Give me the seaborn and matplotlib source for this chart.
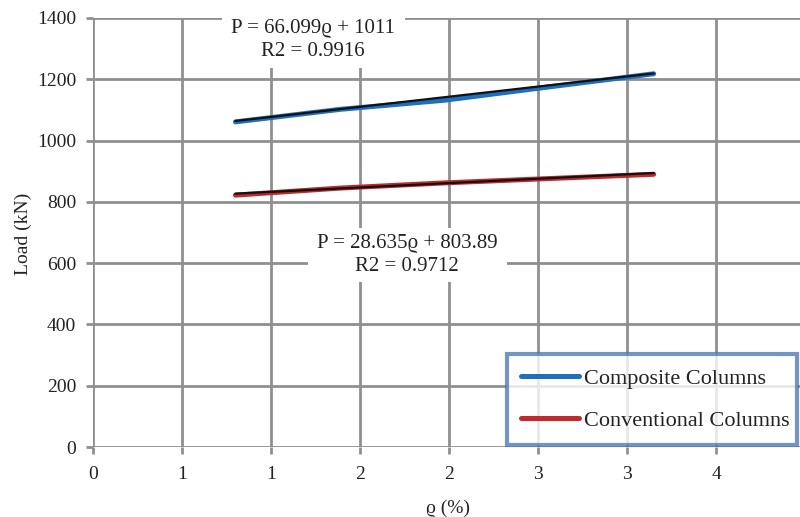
import matplotlib
matplotlib.use("Agg")
import matplotlib.pyplot as plt
from matplotlib.patches import Rectangle
import seaborn as sns
import pandas as pd
import numpy as np

# Data
rho = [0.80, 1.39, 1.98, 2.56, 3.15]
composite = [1061, 1102, 1132, 1175, 1218]
conventional = [822, 845, 862, 876, 890]
series_names = ["Composite Columns", "Conventional Columns"]
fit_composite = (66.099, 1011.0)
fit_conventional = (28.635, 803.89)
eq_composite = "P = 66.099ϱ + 1011\nR2 = 0.9916"
eq_conventional = "P = 28.635ϱ + 803.89\nR2 = 0.9712"
yticks = [0, 200, 400, 600, 800, 1000, 1200, 1400]
xticks = [0, 0.5, 1, 1.5, 2, 2.5, 3, 3.5, 4, 4.5]
xticklabels = ["0", "1", "1", "2", "2", "3", "3", "4", "4", "5"]

sns.set_theme(style="white")
plt.rcParams['font.family'] = ['Liberation Serif', 'DejaVu Serif']

df = pd.DataFrame({
    "rho": rho * 2,
    "load": composite + conventional,
    "series": [series_names[0]] * len(rho) + [series_names[1]] * len(rho),
})

blue = "#1f6fbf"
red = "#be2a2e"
grid_c = "#8f8f8f"
txt_c = "#222222"

fig = plt.figure(figsize=(8.0, 5.17), dpi=100)
W, H = 800, 517
PXU = 178.0
x0, x1 = 93, 93 + PXU * 4.5
y0, y1 = 447, 18
ax = fig.add_axes([x0 / W, (H - y0) / H, (x1 - x0) / W, (y0 - y1) / H])

ax.set_xlim(0, 4.5)
ax.set_ylim(0, 1400)
ax.set_xticks(xticks)
ax.set_xticklabels(xticklabels)
ax.set_yticks(yticks)
ax.grid(True, color=grid_c, linewidth=2.0, zorder=0)
for s in ax.spines.values():
    s.set_visible(False)
ax.tick_params(axis="both", which="both", direction="out", length=5, width=2.0,
               color=grid_c, labelsize=14, labelcolor=txt_c,
               bottom=True, left=True)
ax.tick_params(axis="x", pad=9)
ax.tick_params(axis="y", pad=7)

sns.lineplot(data=df, x="rho", y="load", hue="series", palette=[blue, red],
             linewidth=3.6, ax=ax, legend=True, zorder=3,
             solid_capstyle="round")

xr = np.array([rho[0], rho[-1]])
for m, b in (fit_composite, fit_conventional):
    ax.plot(xr, m * xr + b, color="#111111", linewidth=1.6, zorder=4,
            solid_capstyle="round")

def label_box(cx, cy, s, bx0, bx1, by0, by1):
    r = Rectangle((bx0 / W, 1 - by1 / H), (bx1 - bx0) / W, (by1 - by0) / H,
                  transform=fig.transFigure, facecolor="white", edgecolor="none",
                  zorder=5, clip_on=False)
    ax.add_patch(r)
    ax.text(cx / W, 1 - cy / H, s, transform=fig.transFigure, fontsize=15,
            ha="center", va="center", linespacing=1.25, color=txt_c,
            zorder=6, multialignment="center", clip_on=False)

label_box(313, 40, eq_composite, 222, 405, 8, 68)
label_box(407, 255, eq_conventional, 308, 507, 228, 282)

ax.set_xlabel("ϱ (%)", fontsize=14, color=txt_c)
ax.xaxis.set_label_coords(448 / W, (H - 500) / H, transform=fig.transFigure)
ax.set_ylabel("Load (kN)", fontsize=14, color=txt_c)
ax.yaxis.set_label_coords(32 / W, (H - 234) / H, transform=fig.transFigure)

handles, labels = ax.get_legend_handles_labels()
leg = ax.legend(handles, labels, loc="upper left",
                bbox_to_anchor=(507 / W, (H - 446) / H, (797 - 507) / W, (446 - 354) / H),
                bbox_transform=fig.transFigure, mode="expand", frameon=True,
                fancybox=False, fontsize=16, handlelength=2.6, handletextpad=0.2,
                labelspacing=0.95, borderpad=0.65, borderaxespad=0)
leg.get_frame().set_edgecolor("#4f7bb5")
leg.get_frame().set_linewidth(3.0)
leg.set_zorder(10)
for t in leg.get_texts():
    t.set_color(txt_c)
for h in leg.get_lines():
    h.set_linewidth(3.6)

fig.savefig("out.png", dpi=100)
